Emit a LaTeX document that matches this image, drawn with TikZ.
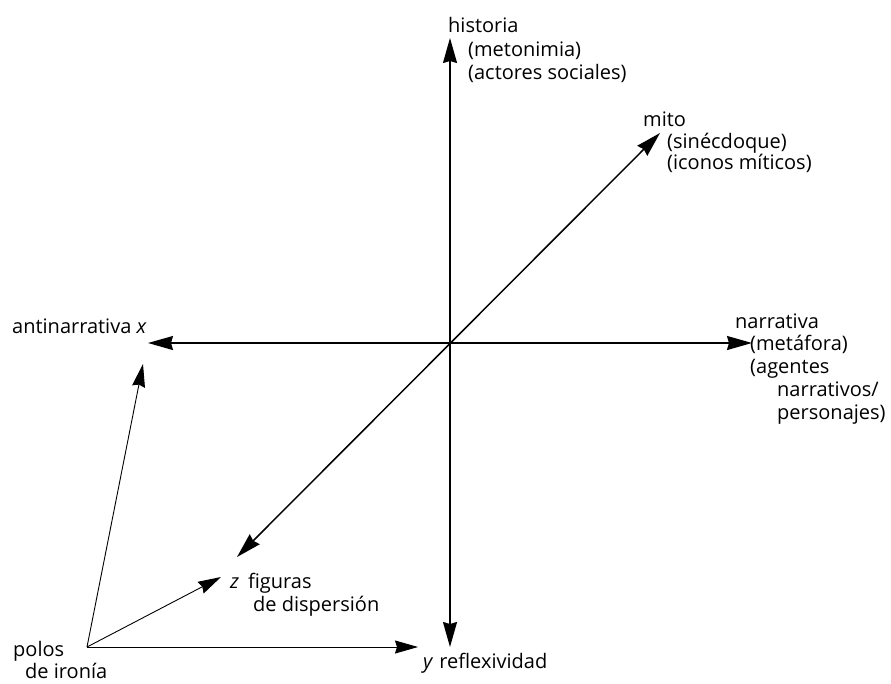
\documentclass[tikz,border=0pt]{standalone}
\usepackage{fontspec}
\setmainfont{Open Sans}
\usetikzlibrary{arrows.meta}
\tikzset{
  axisline/.style={line width=1.5pt, {Stealth[length=25pt,width=14pt,inset=2pt]}-{Stealth[length=25pt,width=14pt,inset=2pt]}},
  thinarrow/.style={line width=0.9pt, -{Stealth[length=23pt,width=13pt,inset=2pt]}},
  lbl/.style={anchor=base west, inner sep=0pt, font=\fontsize{20}{23}\selectfont}
}
\begin{document}
\begin{tikzpicture}[x=1pt,y=-1pt]
\useasboundingbox (0,0) rectangle (891,683);
% axis end points
\coordinate (C) at (450,343);
\coordinate (top) at (450,38);
\coordinate (bottom) at (450,647);
\coordinate (left) at (148,343);
\coordinate (right) at (752,343);
\coordinate (ur) at (660,133);
\coordinate (ll) at (237,557);
\coordinate (P) at (87,647);
\coordinate (px) at (143,364);
\coordinate (pz) at (221,577);
\coordinate (py) at (418,647);
% axes
\draw[axisline] (bottom) -- (top);
\draw[axisline] (left) -- (right);
\draw[axisline] (ll) -- (ur);
% irony poles
\draw[thinarrow] (P) -- (px);
\draw[thinarrow] (P) -- (pz);
\draw[thinarrow] (P) -- (py);
% labels
\node[lbl] (h1) at (448,32) {historia};
\node[lbl] (h2) at (468,56) {(metonimia)};
\node[lbl] (h3) at (468,79) {(actores sociales)};
\node[lbl] (m1) at (643,126) {mito};
\node[lbl] (m2) at (667,148) {(sinécdoque)};
\node[lbl] (m3) at (667,169) {(iconos míticos)};
\node[lbl] (a1) at (12,333) {antinarrativa \textit{x}};
\node[lbl] (n1) at (735,328) {narrativa};
\node[lbl] (n2) at (750,350) {(metáfora)};
\node[lbl] (n3) at (750,373) {(agentes};
\node[lbl] (n4) at (777,396) {narrativos/};
\node[lbl] (n5) at (777,419) {personajes)};
\node[lbl] (z1) at (230,588) {\textit{z}\hspace{9pt}figuras};
\node[lbl] (z2) at (253,611) {de dispersión};
\node[lbl] (y1) at (423,668) {\textit{y}\hspace{6pt}reflexividad};
\node[lbl] (p1) at (13,656) {polos};
\node[lbl] (p2) at (25,678) {de ironía};
\end{tikzpicture}
\end{document}
